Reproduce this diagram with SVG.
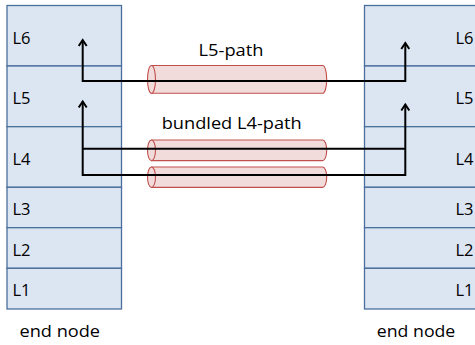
<svg xmlns="http://www.w3.org/2000/svg" width="475" height="345" viewBox="0 0 475 345">
  <style>
    .layer { fill: #dce6f2; stroke: #4a6f9c; stroke-width: 1.3; }
    .lbl { font-family: "Open Sans", "Liberation Sans", sans-serif; font-size: 16.5px; fill: #000; }
    .tube { fill: #f2dcdb; stroke: #c0504d; stroke-width: 1.1; }
    .wire { fill: none; stroke: #000; stroke-width: 2; }
  </style>
  <defs>
    <marker id="chev" markerUnits="userSpaceOnUse" markerWidth="10" markerHeight="10" viewBox="0 0 10 10" refX="7" refY="5" orient="auto">
      <path d="M1,1 L7,5 L1,9" fill="none" stroke="#000" stroke-width="2"/>
    </marker>
  </defs>
  <rect width="475" height="345" fill="#fff"/>

  <!-- left protocol stack -->
  <g id="node-left">
    <rect class="layer" x="7" y="5.5" width="114.5" height="60.5"/>
    <rect class="layer" x="7" y="66" width="114.5" height="60.7"/>
    <rect class="layer" x="7" y="126.7" width="114.5" height="60.6"/>
    <rect class="layer" x="7" y="187.3" width="114.5" height="40.4"/>
    <rect class="layer" x="7" y="227.7" width="114.5" height="40.6"/>
    <rect class="layer" x="7" y="268.3" width="114.5" height="40.7"/>
    <text class="lbl" x="12.5" y="43.5">L6</text>
    <text class="lbl" x="12.5" y="104">L5</text>
    <text class="lbl" x="12.5" y="165">L4</text>
    <text class="lbl" x="12.5" y="215">L3</text>
    <text class="lbl" x="12.5" y="256">L2</text>
    <text class="lbl" x="12.5" y="296">L1</text>
    <text class="lbl" x="19.5" y="336.5" textLength="80.5" lengthAdjust="spacingAndGlyphs">end node</text>
  </g>

  <!-- right protocol stack -->
  <g id="node-right">
    <rect class="layer" x="364.5" y="5.5" width="114.5" height="60.5"/>
    <rect class="layer" x="364.5" y="66" width="114.5" height="60.7"/>
    <rect class="layer" x="364.5" y="126.7" width="114.5" height="60.6"/>
    <rect class="layer" x="364.5" y="187.3" width="114.5" height="40.4"/>
    <rect class="layer" x="364.5" y="227.7" width="114.5" height="40.6"/>
    <rect class="layer" x="364.5" y="268.3" width="114.5" height="40.7"/>
    <g class="lbl" text-anchor="end">
      <text x="473.5" y="43.5">L6</text>
      <text x="473.5" y="104">L5</text>
      <text x="473.5" y="165">L4</text>
      <text x="473.5" y="215">L3</text>
      <text x="473.5" y="256">L2</text>
      <text x="473.5" y="296">L1</text>
    </g>
    <text class="lbl" x="376.8" y="336.5" textLength="78.5" lengthAdjust="spacingAndGlyphs">end node</text>
  </g>

  <!-- L5 tunnel -->
  <g id="l5-path">
    <path class="tube" d="M151.5,65.5 H322.7 A4,13.9 0 0 1 322.7,93.3 H151.5 Z"/>
    <ellipse class="tube" cx="151.5" cy="79.4" rx="4" ry="13.9"/>
    <text class="lbl" x="231" y="55.5" text-anchor="middle" textLength="65" lengthAdjust="spacingAndGlyphs">L5-path</text>
  </g>

  <!-- bundled L4 tunnels -->
  <g id="l4-path">
    <path class="tube" d="M151.5,140 H322.7 A4,10.3 0 0 1 322.7,160.6 H151.5 Z"/>
    <ellipse class="tube" cx="151.5" cy="150.3" rx="4" ry="10.3"/>
    <path class="tube" d="M151.5,167 H322.7 A4,10.2 0 0 1 322.7,187.4 H151.5 Z"/>
    <ellipse class="tube" cx="151.5" cy="177.2" rx="4" ry="10.2"/>
    <text class="lbl" x="231.7" y="129" text-anchor="middle" textLength="140" lengthAdjust="spacingAndGlyphs">bundled L4-path</text>
  </g>

  <!-- end-to-end connections -->
  <g id="connectors">
    <polyline class="wire" points="405.3,81 82.7,81 82.7,40" marker-end="url(#chev)"/>
    <polyline class="wire" points="82.7,81 405.3,81 405.3,43" marker-end="url(#chev)"/>
    <polyline class="wire" points="405.3,148.7 82.7,148.7"/>
    <polyline class="wire" points="405.3,175 82.7,175 82.7,101.5" marker-end="url(#chev)"/>
    <polyline class="wire" points="82.7,175 405.3,175 405.3,104.5" marker-end="url(#chev)"/>
  </g>
</svg>
